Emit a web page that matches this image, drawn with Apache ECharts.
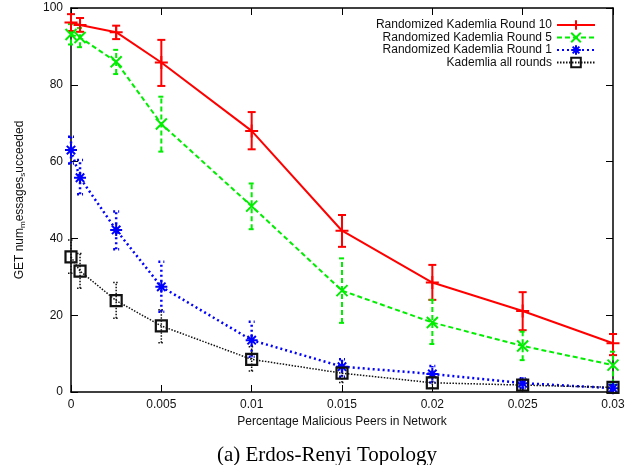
<!DOCTYPE html>
<html>
<head>
<meta charset="utf-8">
<script src="https://cdn.jsdelivr.net/npm/echarts@6/dist/echarts.min.js"></script>
<style>html,body{margin:0;padding:0;background:#fff}#c{width:635px;height:465px}</style>
</head>
<body>
<div id="c"></div>
<script>
const xVals = [0, 0.0005, 0.0025, 0.005, 0.01, 0.015, 0.02, 0.025, 0.03];

const r10 = [96.2, 95.6, 93.7, 85.8, 68.0, 42.0, 28.5, 21.1, 12.7];
const r10Lo = [94.0, 93.8, 91.9, 79.7, 63.2, 37.8, 24.0, 16.1, 9.6];
const r10Hi = [98.4, 97.4, 95.4, 91.7, 72.9, 46.1, 33.1, 26.0, 15.1];

const r5 = [93.1, 92.3, 86.0, 69.8, 48.4, 26.4, 18.1, 12.0, 7.0];
const r5Lo = [90.5, 89.8, 82.8, 62.6, 42.4, 18.0, 12.5, 8.3, 2.0];
const r5Hi = [95.8, 94.8, 89.1, 76.9, 54.3, 34.8, 24.0, 15.7, 10.5];

const r1 = [63.0, 55.8, 42.2, 27.4, 13.5, 6.6, 4.7, 2.3, 1.0];
const r1Lo = [59.5, 51.5, 37.2, 20.9, 9.2, 4.0, 2.5, 1.0, 0.3];
const r1Hi = [66.5, 60.4, 47.0, 33.9, 18.3, 8.5, 6.8, 3.6, 1.8];

const kad = [35.2, 31.5, 23.8, 17.2, 8.5, 4.9, 2.4, 1.8, 1.2];
const kadLo = [30.9, 27.0, 19.2, 12.8, 5.5, 2.5, 1.0, 0.8, 0.5];
const kadHi = [39.6, 36.1, 28.5, 21.4, 11.8, 7.0, 3.8, 2.8, 1.9];

const seriesNames = ['Randomized Kademlia Round 10', 'Randomized Kademlia Round 5', 'Randomized Kademlia Round 1', 'Kademlia all rounds'];

const styles = [
  {color: '#ff0000', width: 2, dash: null, symbol: 'path://M0,5L10,5M5,0L5,10', size: 13, cap: 8},
  {color: '#00ee00', width: 2, dash: [5, 3], symbol: 'path://M0,0L10,10M10,0L0,10', size: 11, cap: 6},
  {color: '#0000ff', width: 2.5, dash: [2, 3], symbol: 'path://M5,0L5,10M0,5L10,5M1.5,1.5L8.5,8.5M8.5,1.5L1.5,8.5', size: 12, cap: 6},
  {color: '#111111', width: 1.5, dash: [1.5, 1.5], symbol: 'path://M0,0L10,0L10,10L0,10Z', size: 11, cap: 6}
];
const means = [r10, r5, r1, kad];
const lows = [r10Lo, r5Lo, r1Lo, kadLo];
const highs = [r10Hi, r5Hi, r1Hi, kadHi];

const series = [];
// error bars
means.forEach((m, k) => {
  const st = styles[k];
  series.push({
    type: 'custom',
    name: 'err' + k,
    xAxisIndex: 0, yAxisIndex: 0,
    z: 2,
    data: xVals.map((x, i) => [x, lows[k][i], highs[k][i]]),
    encode: {x: 0, y: [1, 2]},
    renderItem: function (params, api) {
      const lo = api.coord([api.value(0), api.value(1)]);
      const hi = api.coord([api.value(0), api.value(2)]);
      const half = st.cap / 2;
      const s = {stroke: st.color, lineWidth: k === 3 ? 1.5 : st.width, lineDash: st.dash || null, fill: null};
      return {
        type: 'group',
        children: [
          {type: 'line', shape: {x1: lo[0], y1: lo[1], x2: hi[0], y2: hi[1]}, style: s},
          {type: 'line', shape: {x1: lo[0] - half, y1: lo[1], x2: lo[0] + half, y2: lo[1]}, style: s},
          {type: 'line', shape: {x1: hi[0] - half, y1: hi[1], x2: hi[0] + half, y2: hi[1]}, style: s}
        ]
      };
    },
    silent: true
  });
});
// lines with markers
means.forEach((m, k) => {
  const st = styles[k];
  series.push({
    type: 'line',
    name: seriesNames[k],
    xAxisIndex: 0, yAxisIndex: 0,
    z: 3,
    data: xVals.map((x, i) => [x, m[i]]),
    symbol: st.symbol,
    symbolSize: st.size,
    showAllSymbol: true,
    color: st.color,
    lineStyle: {color: st.color, width: k === 3 ? 1.5 : st.width, type: st.dash || 'solid'},
    itemStyle: {color: 'rgba(0,0,0,0)', borderColor: st.color, borderWidth: k === 3 ? 2.2 : 2},
    animation: false
  });
});

const axisLineStyle = {color: '#000', width: 1.5};
const tickStyle = {show: true, inside: true, length: 7, lineStyle: {color: '#000', width: 1}};
const chart = echarts.init(document.getElementById('c'), null, {renderer: 'canvas'});
chart.setOption({
  animation: false,
  backgroundColor: '#fff',
  grid: {left: 71, right: 22, top: 8, bottom: 73, containLabel: false},
  title: {
    text: '(a) Erdos-Renyi Topology',
    left: 322, top: 440, textAlign: 'center',
    textStyle: {fontFamily: 'Liberation Serif', fontSize: 21, fontWeight: 'normal', color: '#000'}
  },
  legend: {
    data: seriesNames,
    orient: 'vertical',
    align: 'right',
    right: 34, top: 14,
    itemWidth: 38, itemHeight: 12, itemGap: 0.5,
    textStyle: {fontFamily: 'Liberation Sans', fontSize: 12, color: '#111', lineHeight: 12}
  },
  xAxis: [{
    type: 'value', min: 0, max: 0.03, interval: 0.005,
    name: 'Percentage Malicious Peers in Network',
    nameLocation: 'middle', nameGap: 24,
    nameTextStyle: {fontFamily: 'Liberation Sans', fontSize: 12, color: '#111'},
    axisLine: {show: true, onZero: false, lineStyle: axisLineStyle},
    axisTick: tickStyle,
    axisLabel: {margin: 7, fontFamily: 'Liberation Sans', fontSize: 12, color: '#111',
      formatter: v => String(+v.toFixed(4))},
    splitLine: {show: false}
  }, {
    type: 'value', min: 0, max: 0.03, interval: 0.005, position: 'top',
    axisLine: {show: true, onZero: false, lineStyle: axisLineStyle},
    axisTick: tickStyle,
    axisLabel: {show: false}, splitLine: {show: false}
  }],
  yAxis: [{
    type: 'value', min: 0, max: 100, interval: 20,
    name: 'GET num{s|m}essages{s|s}ucceeded',
    nameLocation: 'middle', nameGap: 44, nameRotate: 90,
    nameTextStyle: {fontFamily: 'Liberation Sans', fontSize: 12, color: '#111',
      rich: {s: {fontFamily: 'Liberation Sans', fontSize: 8, color: '#111', padding: [7, 0, 0, 0]}}},
    axisLine: {show: true, onZero: false, lineStyle: axisLineStyle},
    axisTick: tickStyle,
    axisLabel: {margin: 8, fontFamily: 'Liberation Sans', fontSize: 12, color: '#111'},
    splitLine: {show: false}
  }, {
    type: 'value', min: 0, max: 100, interval: 20, position: 'right',
    axisLine: {show: true, onZero: false, lineStyle: axisLineStyle},
    axisTick: tickStyle,
    axisLabel: {show: false}, splitLine: {show: false}
  }],
  series: series
});
</script>
</body>
</html>
